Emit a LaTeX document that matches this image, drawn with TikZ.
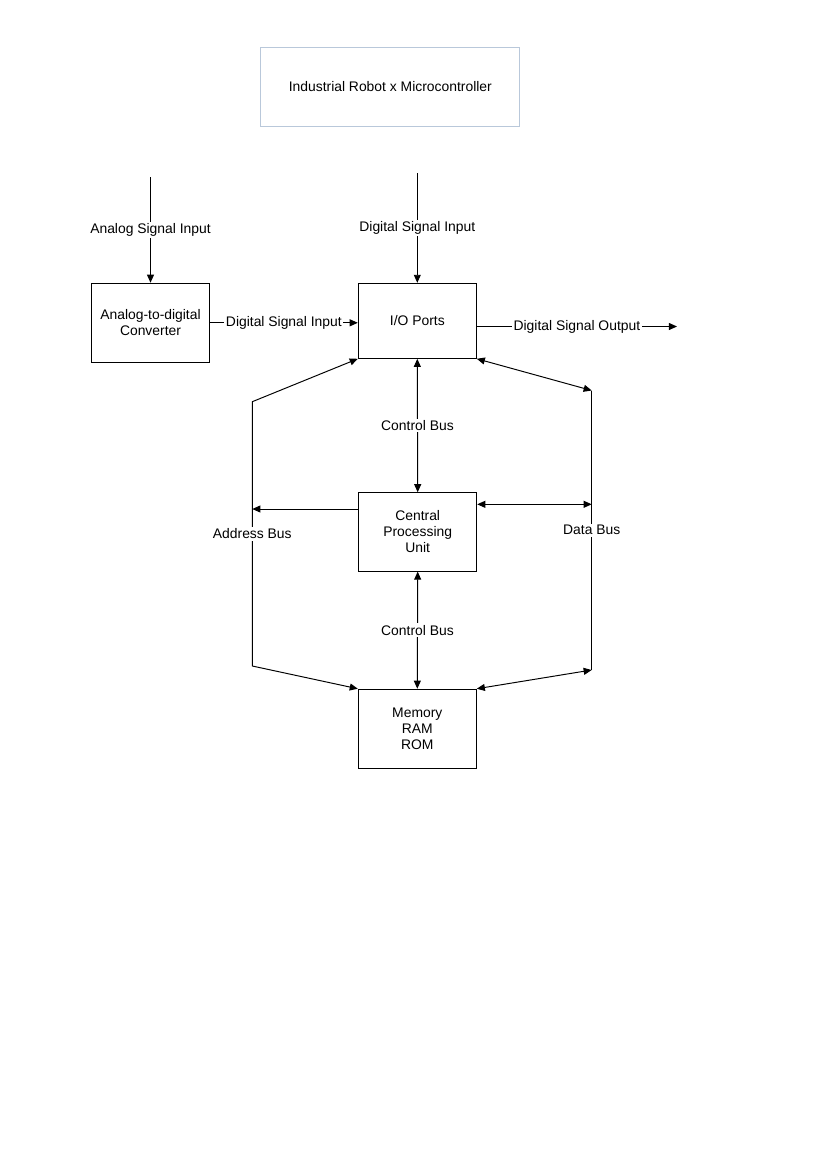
\documentclass[tikz,border=0pt]{standalone}
\usepackage{fontspec}
\setmainfont{Liberation Sans}
\usepackage{xcolor}
\usetikzlibrary{arrows.meta}

\definecolor{titleframe}{RGB}{185,200,218}
\tikzset{
  blk/.style={draw, line width=0.7pt, rectangle, inner sep=0pt,
    minimum width=85pt, minimum height=57pt, align=center},
  lbl/.style={fill=white, inner sep=1.2pt},
  tip/.style={-{Triangle[length=5.8pt,width=5pt]}},
  dbltip/.style={{Triangle[length=5.8pt,width=5pt]}-{Triangle[length=5.8pt,width=5pt]}},
}

\begin{document}
\begin{tikzpicture}[x=0.72pt,y=0.72pt,yscale=-1,line width=0.7pt,
  every node/.append style={font=\fontsize{10}{11.5}\selectfont}]
\path[use as bounding box] (0,0) rectangle (827,1169);

%Shape: Rectangle [id:title]
\node[draw=titleframe, line width=0.7pt, minimum width=186.7pt, minimum height=56.7pt] (title) at (390.3,86.7) {Industrial Robot x Microcontroller};

%Shape: Rectangle [id:adc]
\node[blk] (adc) at (150.5,322.8) {Analog-to-digital\\Converter};
%Shape: Rectangle [id:io]
\node[blk, minimum height=54pt] (io) at (417.3,320.8) {I/O Ports};
%Shape: Rectangle [id:cpu]
\node[blk, minimum height=56.4pt] (cpu) at (417.7,531.9) {Central\\Processing\\Unit};
%Shape: Rectangle [id:mem]
\node[blk] (mem) at (417.3,728.8) {Memory\\RAM\\ROM};

% free ends
\coordinate (anIn) at (150.5,177);
\coordinate (digIn) at (417.3,173);
\coordinate (digOut) at (677,326.5);
\coordinate (abTop) at (252.3,401.7);
\coordinate (abMid) at (252.3,509);
\coordinate (abBot) at (252.3,666);
\coordinate (dbTop) at (591.7,390.5);
\coordinate (dbMid) at (591.7,504.3);
\coordinate (dbBot) at (591.7,670);

%Straight Lines [id:inputs]
\draw[tip] (anIn) -- node[lbl] {Analog Signal Input} (adc.north);
\draw[tip] (digIn) -- node[lbl] {Digital Signal Input} (io.north);
\draw[tip] (adc.east) -- node[lbl] {Digital Signal Input} (io.west |- adc.east);
\draw[tip] (io.east |- digOut) -- node[lbl] {Digital Signal Output} (digOut);

%Straight Lines [id:control]
\draw[dbltip] (io.south) -- node[lbl] {Control Bus} (cpu.north);
\draw[dbltip] (cpu.south) -- node[lbl] {Control Bus} (mem.north);

%Straight Lines [id:address]
\draw[dbltip] (io.south west) -- (abTop) -- node[lbl] {Address Bus} (abBot) -- (mem.north west);
\draw[tip] (cpu.west |- abMid) -- (abMid);

%Straight Lines [id:data]
\draw[dbltip] (io.south east) -- (dbTop);
\draw (dbTop) -- node[lbl] {Data Bus} (dbBot);
\draw[dbltip] (mem.north east) -- (dbBot);
\draw[dbltip] (cpu.east |- dbMid) -- (dbMid);

\end{tikzpicture}
\end{document}
